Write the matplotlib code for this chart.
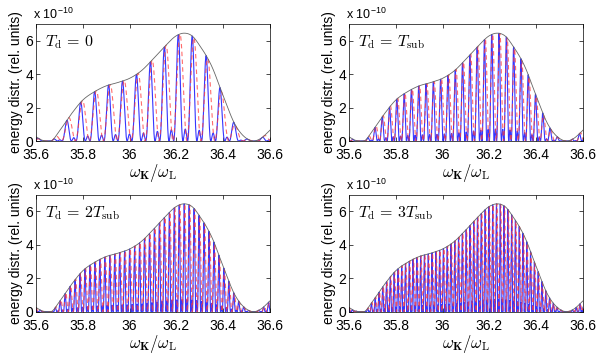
import numpy as np
import matplotlib
matplotlib.use("Agg")
import matplotlib.pyplot as plt

plt.rcParams['font.family'] = ['Liberation Sans', 'DejaVu Sans']
plt.rcParams['mathtext.fontset'] = 'cm'

# envelope of the spectrum (units of 1e-10)
env_x = [35.60, 35.62, 35.645, 35.665, 35.70, 35.75, 35.80, 35.85, 35.90, 35.95,
         36.00, 36.05, 36.10, 36.15, 36.20, 36.23, 36.27, 36.30, 36.35, 36.40,
         36.45, 36.50, 36.53, 36.56, 36.60]
env_y = [0.25, 0.08, 0.0, 0.0, 0.6, 1.6, 2.45, 2.95, 3.3, 3.5,
         3.75, 4.2, 4.9, 5.65, 6.3, 6.45, 6.25, 5.7, 4.5, 2.7,
         1.0, 0.15, 0.0, 0.15, 0.65]

# fringe spacing per panel and position of one main fringe
labels = [r'$T_{\mathrm{d}}\,=\,0$', r'$T_{\mathrm{d}}\,=\,T_{\mathrm{sub}}$',
          r'$T_{\mathrm{d}}\,=\,2T_{\mathrm{sub}}$', r'$T_{\mathrm{d}}\,=\,3T_{\mathrm{sub}}$']
periods = [0.0596, 0.0312, 0.0212, 0.0162]
peak_ref = [36.208, 36.210, 36.212, 36.214]
red_shift = 0.12  # red fringe offset, fraction of a period

xticks = [35.6, 35.8, 36.0, 36.2, 36.4, 36.6]
xtick_labels = ['35.6', '35.8', '36', '36.2', '36.4', '36.6']
yticks = [0, 2, 4, 6]


def envelope(x):
    # cubic hermite through the read points
    xs = np.array(env_x)
    ys = np.array(env_y)
    m = np.gradient(ys, xs)
    i = np.clip(np.searchsorted(xs, x) - 1, 0, len(xs) - 2)
    h = xs[i + 1] - xs[i]
    t = (x - xs[i]) / h
    h00 = 2 * t**3 - 3 * t**2 + 1
    h10 = t**3 - 2 * t**2 + t
    h01 = -2 * t**3 + 3 * t**2
    h11 = t**3 - t**2
    y = h00 * ys[i] + h10 * h * m[i] + h01 * ys[i + 1] + h11 * h * m[i + 1]
    return np.clip(y, 0, None)


x = np.linspace(35.6, 36.6, 8000)
env = envelope(x)

fig = plt.figure(figsize=(5.99, 3.55), dpi=100)
positions = [
    [0.0601, 0.6028, 0.3907, 0.3296],
    [0.5826, 0.6028, 0.3907, 0.3296],
    [0.0601, 0.1220, 0.3907, 0.3296],
    [0.5826, 0.1220, 0.3907, 0.3296],
]

for k in range(4):
    ax = fig.add_axes(positions[k])
    d = periods[k]
    phi = 2 * np.pi * (x - peak_ref[k]) / d
    s = np.sin(phi / 2)
    with np.errstate(divide='ignore', invalid='ignore'):
        blue_mod = np.where(np.abs(s) < 1e-9, 1.0, (np.sin(1.5 * phi) / (3 * s))**2)
    red_mod = np.cos(np.pi * (x - peak_ref[k] - red_shift * d) / d)**2

    ax.plot(x, env * blue_mod, color='#2a2aff', lw=0.8, alpha=0.95)
    ax.plot(x, env * red_mod, color='#ff3b3b', lw=0.8, alpha=0.75,
            linestyle=(0, (4, 3)))
    ax.plot(x, env, color='#666666', lw=0.6)

    ax.set_xlim(35.6, 36.6)
    ax.set_ylim(0, 7)
    ax.set_xticks(xticks)
    ax.set_xticklabels(xtick_labels)
    ax.set_yticks(yticks)
    ax.tick_params(direction='in', top=True, right=True, length=3, width=0.5,
                   labelsize=10)
    ax.tick_params(axis='x', pad=5)
    ax.tick_params(axis='y', pad=2)
    for sp in ax.spines.values():
        sp.set_linewidth(0.5)
    ax.set_xlabel(r'$\omega_{\mathbf{K}}/\omega_{\mathrm{L}}$', fontsize=12, labelpad=0)
    ax.set_ylabel('energy distr. (rel. units)', fontsize=10, labelpad=2)
    ax.text(35.64, 5.9, labels[k], fontsize=11.5, va='center', ha='left')
    ax.text(-0.012, 1.015, r'x 10$^{\mathregular{-10}}$', transform=ax.transAxes,
            fontsize=9, ha='left', va='bottom')

fig.savefig('out.png', dpi=100)
